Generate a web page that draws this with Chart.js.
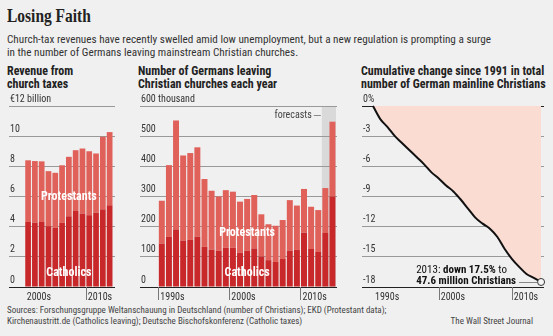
<!DOCTYPE html>
<html>
<head>
<meta charset="utf-8">
<script src="https://cdn.jsdelivr.net/npm/chart.js@4.4.0/dist/chart.umd.min.js"></script>
<style>
html, body { margin: 0; padding: 0; }
body {
    width: 553px; height: 336px; background: #f0f0f0; position: relative; overflow: hidden;
    font-family: "Liberation Sans Narrow", "Arial Narrow", "Roboto Condensed", Roboto, sans-serif; color: #222;
}
.t { position: absolute; white-space: nowrap; }
#title { left: 7px; top: 6px; font: bold 18px "Liberation Serif", serif; transform: scaleX(0.86); transform-origin: left top; }
#sub { left: 7px; top: 34px; font-size: 11.2px; line-height: 12.5px; color: #333; }
.h { top: 65px; font-weight: bold; font-size: 12px; line-height: 13px; }
.box { position: absolute; top: 92px; height: 212px; }
#src { left: 7px; top: 305px; font-size: 9px; line-height: 11px; color: #444; }
#wsj { right: 20px; top: 316px; font-size: 9px; line-height: 11px; color: #444; }
</style>
</head>
<body>
<div class="t" id="title">Losing Faith</div>
<div class="t" id="sub">Church-tax revenues have recently swelled amid low unemployment, but a new regulation is prompting a surge<br>in the number of Germans leaving mainstream Christian churches.</div>
<div class="t h" style="left:7px">Revenue from<br>church taxes</div>
<div class="t h" style="left:138px">Number of Germans leaving<br>Christian churches each year</div>
<div class="t h" style="left:361px">Cumulative change since 1991 in total<br>number of German mainline Christians</div>
<div class="box" style="left:0;width:125px"><canvas id="revenue"></canvas></div>
<div class="box" style="left:130px;width:212px"><canvas id="leaving"></canvas></div>
<div class="box" style="left:352px;width:201px"><canvas id="christians"></canvas></div>
<div class="t" id="src">Sources: Forschungsgruppe Weltanschauung in Deutschland (number of Christians); EKD (Protestant data);<br>Kirchenaustritt.de (Catholics leaving); Deutsche Bischofskonferenz (Catholic taxes)</div>
<div class="t" id="wsj">The Wall Street Journal</div>
<script>
const F = '"Liberation Sans Narrow", "Arial Narrow", "Roboto Condensed", Roboto, sans-serif';
const CATH = '#c8282a';
const PROT = '#e0605a';

// revenue from church taxes, € billion
const revenueYears = [2001, 2002, 2003, 2004, 2005, 2006, 2007, 2008, 2009, 2010, 2011, 2012, 2013];
const revenueCatholics = [4.31, 4.27, 4.31, 4.03, 3.92, 4.25, 4.69, 5.04, 4.87, 4.76, 4.93, 5.15, 5.42];
const revenueProtestants = [4.09, 4.08, 4.02, 3.65, 3.65, 3.82, 3.94, 4.03, 4.31, 4.24, 3.92, 4.81, 4.85];
const revenueDecadeLabels = ['2000s', '2010s'];
const revenueDecadeStarts = [2000.5, 2009.5];
const revenueDecadeTicks = [2009.5];

// Germans leaving churches, thousand
const leavingYears = [1990, 1991, 1992, 1993, 1994, 1995, 1996, 1997, 1998, 1999, 2000, 2001, 2002,
    2003, 2004, 2005, 2006, 2007, 2008, 2009, 2010, 2011, 2012, 2013, 2014];
const leavingCatholics = [144, 166, 191, 154, 156, 167, 133, 124, 120, 130, 130, 114, 120,
    128, 101, 89, 83, 93, 121, 123, 180, 126, 116, 179, 300];
const leavingProtestants = [142, 238, 361, 282, 288, 296, 225, 195, 180, 191, 186, 169, 172,
    177, 140, 119, 120, 129, 167, 147, 145, 140, 139, 149, 248];
const leavingDecadeLabels = ['1990s', '2000s', '2010s'];
const leavingDecadeStarts = [1989.5, 1999.5, 2009.5];
const leavingDecadeTicks = [1989.5, 1999.5, 2009.5];
const forecastYears = [2013, 2014];

// cumulative change in number of Christians since 1991, %
const christianYears = [1991, 1992, 1993, 1994, 1995, 1996, 1997, 1998, 1999, 2000, 2001, 2002,
    2003, 2004, 2005, 2006, 2007, 2008, 2009, 2010, 2011, 2012, 2013, 2014];
const christianChange = [0, -1.3, -2.1, -3.0, -3.7, -4.4, -5.1, -5.8, -6.6, -7.2, -7.9, -8.5,
    -9.3, -10.2, -11.1, -11.7, -12.2, -13.0, -14.2, -15.2, -16.0, -16.7, -17.1, -17.5];
const christianDecadeLabels = ['1990s', '2000s', '2010s'];
const christianDecadeStarts = [1991, 2000, 2010];
const christianDecadeTicks = [2000, 2010];

function yScale(min, max, step, topLabel) {
    return {
        min: min,
        max: max,
        border: { display: false },
        grid: {
            drawTicks: false,
            color: ctx => (ctx.tick && (ctx.tick.value === min || ctx.tick.value === 0)) ? '#222' : '#999'
        },
        ticks: {
            stepSize: step,
            mirror: true,
            padding: 1,
            labelOffset: -7,
            color: '#333',
            font: { family: F, size: 10 },
            callback: v => v === max ? topLabel : v
        }
    };
}

// decade ticks + labels under the axis
const decadePlugin = {
    id: 'decades',
    afterDraw(chart, args, o) {
        const { ctx, chartArea, scales: { x } } = chart;
        ctx.save();
        ctx.strokeStyle = '#777';
        ctx.lineWidth = 1;
        o.ticks.forEach(v => {
            const px = Math.round(x.getPixelForValue(v)) + 0.5;
            ctx.beginPath();
            ctx.moveTo(px, chartArea.bottom);
            ctx.lineTo(px, chartArea.bottom + 13);
            ctx.stroke();
        });
        ctx.fillStyle = '#333';
        ctx.font = '10px ' + F;
        ctx.textAlign = 'left';
        ctx.textBaseline = 'alphabetic';
        o.labels.forEach((t, i) => {
            ctx.fillText(t, x.getPixelForValue(o.starts[i]) + 2, chartArea.bottom + 13);
        });
        ctx.restore();
    }
};

// white series names on top of the bars
const seriesLabelPlugin = {
    id: 'seriesLabels',
    afterDatasetsDraw(chart, args, o) {
        if (!o.items) return;
        const { ctx, scales: { x, y } } = chart;
        ctx.save();
        ctx.fillStyle = '#fff';
        ctx.font = 'bold 12px ' + F;
        ctx.textAlign = 'center';
        ctx.textBaseline = 'middle';
        o.items.forEach(it => ctx.fillText(it.text, x.getPixelForValue(it.x), y.getPixelForValue(it.y)));
        ctx.restore();
    }
};

// grey forecast band
const bandPlugin = {
    id: 'band',
    beforeDraw(chart, args, o) {
        if (!o.years) return;
        const { ctx, chartArea, scales: { x } } = chart;
        const x0 = x.getPixelForValue(o.years[0] - 0.5);
        const x1 = x.getPixelForValue(o.years[o.years.length - 1] + 0.5);
        ctx.save();
        ctx.fillStyle = '#d9d9d9';
        ctx.fillRect(x0, chartArea.top, x1 - x0, chartArea.bottom - chartArea.top);
        ctx.fillStyle = '#444';
        ctx.font = '10px ' + F;
        ctx.textAlign = 'right';
        ctx.textBaseline = 'middle';
        ctx.fillText(o.text, x0 - 10, chartArea.top + 9);
        ctx.strokeStyle = '#888';
        ctx.beginPath();
        ctx.moveTo(x0 - 8, chartArea.top + 9.5);
        ctx.lineTo(x0 - 1, chartArea.top + 9.5);
        ctx.stroke();
        ctx.restore();
    }
};

// note next to the last point of the line
const notePlugin = {
    id: 'note',
    afterDraw(chart, args, o) {
        if (!o.enabled) return;
        const { ctx } = chart;
        const pt = chart.getDatasetMeta(0).data.at(-1);
        const right = pt.x - 25;
        ctx.save();
        ctx.fillStyle = '#111';
        ctx.textBaseline = 'alphabetic';
        ctx.font = 'bold 11px ' + F;
        const w2 = ctx.measureText('47.6 million Christians').width;
        const left = right - w2;
        ctx.fillText('47.6 million Christians', left, pt.y + 2.5);
        let cx = left;
        [['2013: ', ''], ['down 17.5%', 'bold '], [' to', '']].forEach(([s, b]) => {
            ctx.font = b + '11px ' + F;
            ctx.fillText(s, cx, pt.y - 9);
            cx += ctx.measureText(s).width;
        });
        ctx.strokeStyle = '#888';
        ctx.beginPath();
        ctx.moveTo(right + 3, Math.round(pt.y) + 0.5);
        ctx.lineTo(pt.x - 4, Math.round(pt.y) + 0.5);
        ctx.stroke();
        ctx.restore();
    }
};

Chart.register(decadePlugin, seriesLabelPlugin, bandPlugin, notePlugin);

function barChart(id, years, cath, prot, xMin, xMax, yMax, step, topLabel, pad, extra) {
    return new Chart(document.getElementById(id), {
        type: 'bar',
        data: {
            datasets: [
                { label: 'Catholics', data: years.map((yr, i) => ({ x: yr, y: cath[i] })), backgroundColor: CATH },
                { label: 'Protestants', data: years.map((yr, i) => ({ x: yr, y: prot[i] })), backgroundColor: PROT }
            ]
        },
        options: {
            responsive: true,
            maintainAspectRatio: false,
            animation: false,
            layout: { padding: { left: pad[0], right: pad[1], top: 14, bottom: 17 } },
            datasets: { bar: { categoryPercentage: 1, barPercentage: 0.84, borderWidth: 0 } },
            scales: {
                x: { type: 'linear', min: xMin, max: xMax, offset: false, stacked: true, display: false },
                y: Object.assign(yScale(0, yMax, step, topLabel), { stacked: true })
            },
            plugins: Object.assign({ legend: { display: false }, tooltip: { enabled: false } }, extra)
        }
    });
}

barChart('revenue', revenueYears, revenueCatholics, revenueProtestants, 1998.19, 2013.79, 12, 2, '€12 billion', [7, 10], {
    decades: { labels: revenueDecadeLabels, starts: revenueDecadeStarts, ticks: revenueDecadeTicks },
    seriesLabels: { items: [{ text: 'Protestants', x: 2007, y: 6.0 }, { text: 'Catholics', x: 2007, y: 0.95 }] }
});

barChart('leaving', leavingYears, leavingCatholics, leavingProtestants, 1986.93, 2014.64, 600, 100, '600 thousand', [8, 5], {
    decades: { labels: leavingDecadeLabels, starts: leavingDecadeStarts, ticks: leavingDecadeTicks },
    seriesLabels: { items: [{ text: 'Protestants', x: 2002, y: 179 }, { text: 'Catholics', x: 2002, y: 46 }] },
    band: { years: forecastYears, text: 'forecasts' }
});

new Chart(document.getElementById('christians'), {
    type: 'line',
    data: {
        datasets: [{
            data: christianYears.map((yr, i) => ({ x: yr, y: christianChange[i] })),
            borderColor: '#111',
            borderWidth: 2,
            backgroundColor: '#fadcd2',
            fill: { value: 0 },
            cubicInterpolationMode: 'monotone',
            clip: false,
            pointRadius: ctx => ctx.dataIndex === christianYears.length - 1 ? 3.5 : 0,
            pointBackgroundColor: '#f6f6f6',
            pointBorderColor: '#333',
            pointBorderWidth: 1
        }]
    },
    options: {
        responsive: true,
        maintainAspectRatio: false,
        animation: false,
        layout: { padding: { left: 8, right: 9, top: 14, bottom: 17 } },
        scales: {
            x: { type: 'linear', min: 1989.5, max: 2014.4, display: false },
            y: yScale(-18, 0, 3, '0%')
        },
        plugins: {
            legend: { display: false },
            tooltip: { enabled: false },
            decades: { labels: christianDecadeLabels, starts: christianDecadeStarts, ticks: christianDecadeTicks },
            note: { enabled: true }
        }
    }
});
</script>
</body>
</html>
